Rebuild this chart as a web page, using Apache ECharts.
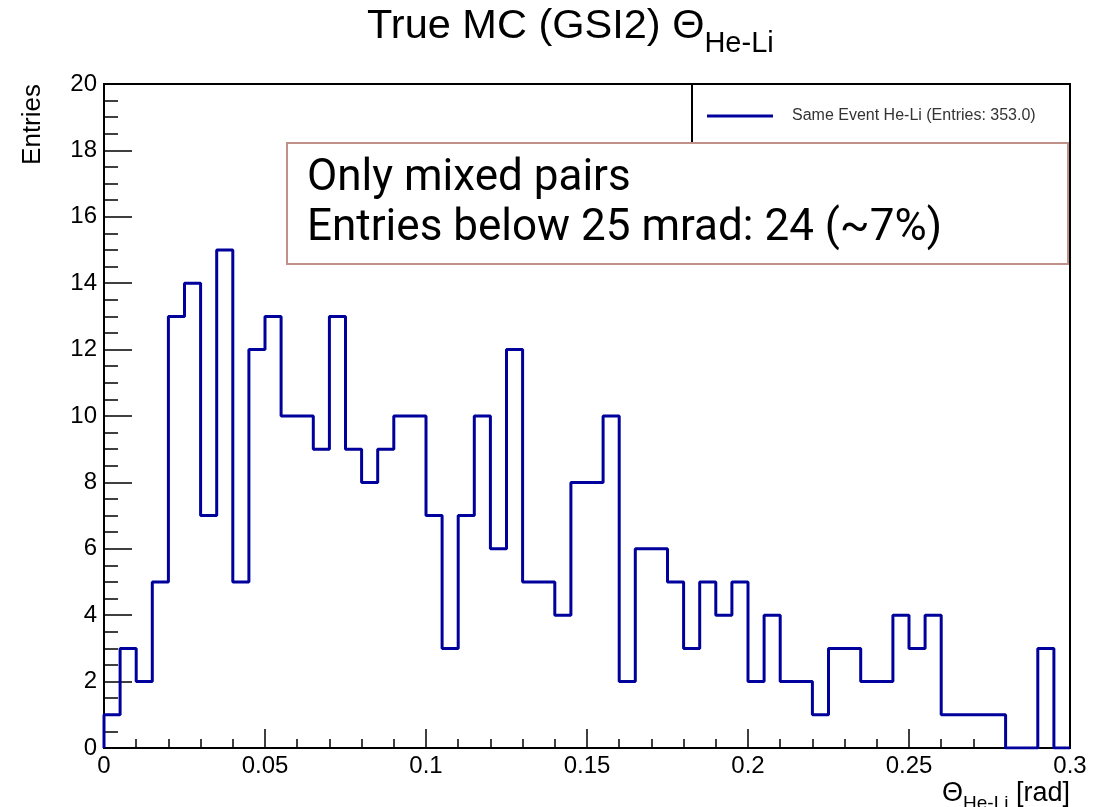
<!DOCTYPE html>
<html>
<head>
<meta charset="utf-8">
<script src="https://cdn.jsdelivr.net/npm/echarts@6/dist/echarts.min.js"></script>
<style>
  html, body { margin: 0; padding: 0; background: #fff; }
  #chart { width: 1110px; height: 807px; }
</style>
</head>
<body>
<div id="chart"></div>
<script>
// Opening angle between He and Li fragments, 60 bins of 5 mrad
const xMin = 0;
const xMax = 0.3;
const binWidth = 0.005;
const binCounts = [
  1, 3, 2, 5, 13, 14, 7, 15, 5, 12,
  13, 10, 10, 9, 13, 9, 8, 9, 10, 10,
  7, 3, 7, 10, 6, 12, 5, 5, 4, 8,
  8, 10, 2, 6, 6, 5, 3, 5, 4, 5,
  2, 4, 2, 2, 1, 3, 3, 2, 2, 4,
  3, 4, 1, 1, 1, 1, 0, 0, 3, 0
];
const xTickLabels = ['0', '0.05', '0.1', '0.15', '0.2', '0.25', '0.3'];
const yTickLabels = ['0', '2', '4', '6', '8', '10', '12', '14', '16', '18', '20'];
const seriesName = 'Same Event He-Li (Entries: 353.0)';
const noteLines = ['Only mixed pairs', 'Entries below 25 mrad: 24 (~7%)'];

// Step outline: start on the baseline, one point per bin low edge, close at xMax
const outline = [[xMin, 0]];
binCounts.forEach((c, i) => outline.push([xMin + i * binWidth, c]));
outline.push([xMax, binCounts[binCounts.length - 1]]);

const chart = echarts.init(document.getElementById('chart'), null, { renderer: 'canvas' });

const axisFont = { fontFamily: 'Liberation Sans', fontSize: 24, color: '#000' };

chart.setOption({
  animation: false,
  backgroundColor: '#fff',
  title: {
    text: '{m|True MC (GSI2) Θ}{s|He-Li}',
    left: 362,
    top: 1,
    textStyle: {
      fontWeight: 'normal',
      rich: {
        m: { fontFamily: 'Liberation Sans', fontWeight: 'normal', fontSize: 41.5, color: '#000', verticalAlign: 'bottom', padding: [0, 0, 10, 0] },
        s: { fontFamily: 'Liberation Sans', fontWeight: 'normal', fontSize: 29, color: '#000', verticalAlign: 'bottom' }
      }
    }
  },
  grid: {
    left: 104, right: 40, top: 84, bottom: 59,
    show: true, borderColor: '#000', borderWidth: 2, backgroundColor: 'transparent'
  },
  legend: {
    left: 702,
    top: 103,
    icon: 'rect',
    itemWidth: 66,
    itemHeight: 3,
    selectedMode: false,
    data: [seriesName],
    textStyle: { fontFamily: 'Liberation Sans', fontSize: 16, color: '#333', padding: [0, 0, 0, 14] }
  },
  xAxis: {
    type: 'value',
    min: xMin,
    max: xMax,
    interval: 0.05,
    axisLine: { show: true, onZero: false, lineStyle: { color: '#000', width: 2 } },
    axisTick: { show: true, inside: true, length: 19, lineStyle: { color: '#000', width: 1.5 } },
    minorTick: { show: true, splitNumber: 5, length: 9, lineStyle: { color: '#000', width: 1.5 } },
    splitLine: { show: false },
    axisLabel: {
      ...axisFont,
      margin: 6,
      formatter: v => xTickLabels[Math.round(v / 0.05)]
    }
  },
  yAxis: {
    type: 'value',
    min: 0,
    max: 20,
    interval: 2,
    axisLine: { show: true, lineStyle: { color: '#000', width: 2 } },
    axisTick: { show: true, inside: true, length: 28, lineStyle: { color: '#000', width: 1.5 } },
    minorTick: { show: true, splitNumber: 4, length: 14, lineStyle: { color: '#000', width: 1.5 } },
    splitLine: { show: false },
    axisLabel: {
      ...axisFont,
      margin: 7,
      formatter: v => yTickLabels[Math.round(v / 2)]
    }
  },
  series: [{
    name: seriesName,
    type: 'line',
    step: 'end',
    symbol: 'none',
    data: outline,
    itemStyle: { color: '#00009c' },
    lineStyle: { color: '#00009c', width: 3 },
    z: 3
  }],
  graphic: [
    // legend frame
    {
      type: 'rect', z: 5,
      shape: { x: 692, y: 84, width: 378, height: 90 },
      style: { fill: 'none', stroke: '#000', lineWidth: 2 }
    },
    // note box
    {
      type: 'rect', z: 20,
      shape: { x: 287, y: 143, width: 781, height: 121 },
      style: { fill: '#fff', stroke: '#c0908a', lineWidth: 2 }
    },
    {
      type: 'text', z: 21, x: 307, y: 201,
      style: { text: noteLines[0], fontFamily: 'Roboto', fontSize: 44, fill: '#000', textVerticalAlign: 'bottom' }
    },
    {
      type: 'text', z: 21, x: 307, y: 251,
      style: { text: noteLines[1], fontFamily: 'Roboto', fontSize: 44, fill: '#000', textVerticalAlign: 'bottom' }
    },
    // y axis title
    {
      type: 'text', x: 33, y: 84, rotation: Math.PI / 2,
      style: { text: 'Entries', fontFamily: 'Liberation Sans', fontSize: 26, fill: '#000', textAlign: 'right', textVerticalAlign: 'middle' }
    },
    // x axis title
    {
      type: 'text', x: 1070, y: 813,
      style: {
        text: '{a|Θ}{b|He-Li}{a| [rad]}',
        textAlign: 'right',
        textVerticalAlign: 'bottom',
        rich: {
          a: { fontFamily: 'Liberation Sans', fontSize: 27, fill: '#000', verticalAlign: 'bottom', padding: [0, 0, 6, 0] },
          b: { fontFamily: 'Liberation Sans', fontSize: 19, fill: '#000', verticalAlign: 'bottom' }
        }
      }
    }
  ]
});
</script>
</body>
</html>
